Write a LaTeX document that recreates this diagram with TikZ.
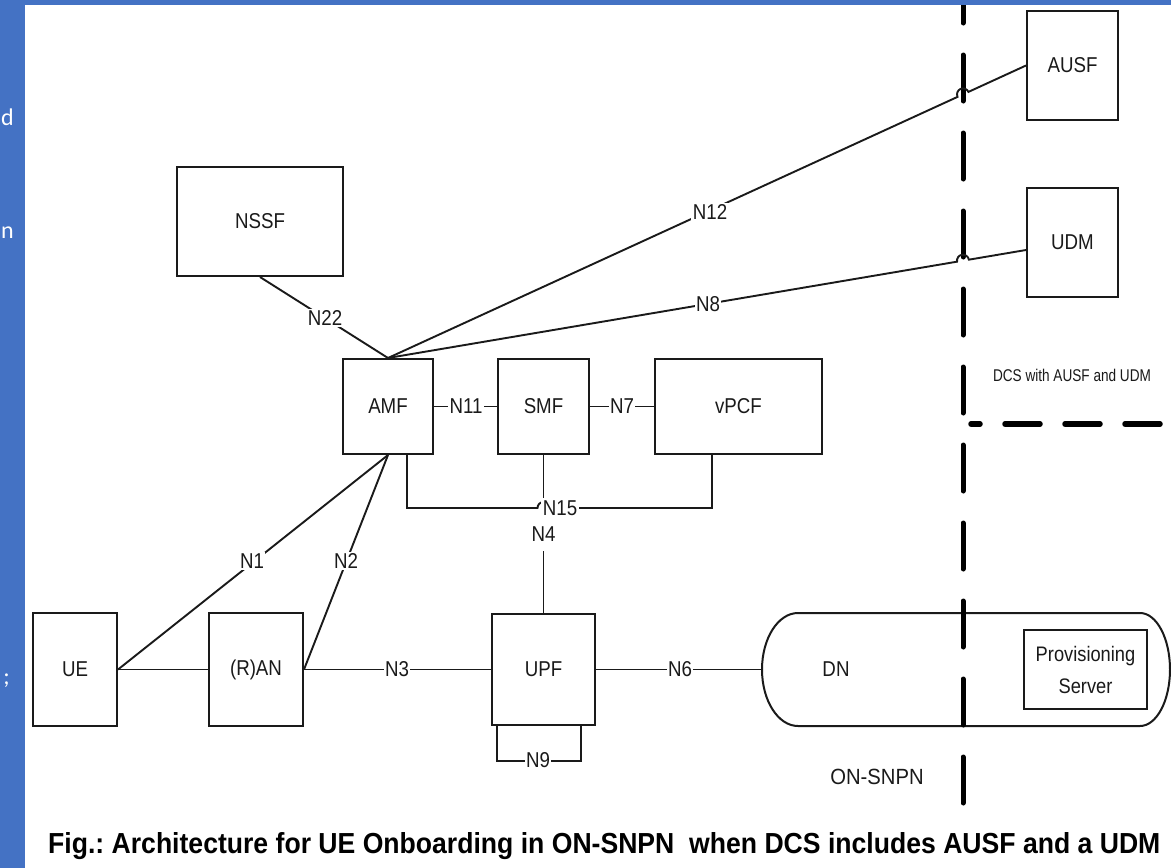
\documentclass[tikz,border=0pt]{standalone}
\usepackage{fontspec}
\usepackage{graphicx}
\setmainfont{Liberation Sans}
\newfontfamily\lblfont[FakeStretch=0.87]{Liberation Sans}
\newfontfamily\dcsfont[FakeStretch=0.8]{Liberation Sans}
\newfontfamily\snpnfont[FakeStretch=0.92]{Liberation Sans}
\newfontfamily\capfont[FakeStretch=0.82]{Liberation Sans}
\newfontfamily\sidefont{Carlito}
\usetikzlibrary{calc}
\definecolor{bandblue}{HTML}{4472C4}
\definecolor{ink}{HTML}{1A1A1A}
\frenchspacing

\begin{document}
\begin{tikzpicture}[x=1pt,y=-1pt,
  every node/.style={text=ink, font=\lblfont\fontsize{21.5}{23}\selectfont},
  nf/.style={draw=ink, line width=2pt, fill=white, rectangle, inner sep=0pt},
  wire/.style={draw=ink, line width=1.9pt},
  lbl/.style={fill=white, inner sep=1.5pt},
  fence/.style={draw=black, line width=5pt, line cap=round},
  sidetxt/.style={text=white, inner sep=0pt, anchor=base east, font=\sidefont\fontsize{24}{26}\selectfont},
]
\useasboundingbox (0,0) rectangle (1171,868);
\fill[white] (0,0) rectangle (1171,868);

% data network pill
\coordinate (dnW) at (762,669.5);
\draw[wire, line width=2pt] (798,613) -- (1140,613)
  arc[start angle=90, end angle=-90, x radius=30pt, y radius=56.5pt]
  -- (798,726)
  arc[start angle=270, end angle=90, x radius=36pt, y radius=56.5pt] -- cycle;
\node (dnl) at (836,669.5) {DN};

% network functions
\node[nf, minimum width=166pt, minimum height=109pt] (nssf) at (260,221.5) {NSSF};
\node[nf, minimum width=90pt, minimum height=95pt] (amf) at (388,406.5) {AMF};
\node[nf, minimum width=91pt, minimum height=95pt] (smf) at (543.5,406.5) {SMF};
\node[nf, minimum width=167pt, minimum height=95pt] (vpcf) at (738.5,406.5) {vPCF};
\node[nf, minimum width=91pt, minimum height=109pt] (ausf) at (1072.5,65.5) {AUSF};
\node[nf, minimum width=91pt, minimum height=109pt] (udm) at (1072.5,242.5) {UDM};
\node[nf, minimum width=84pt, minimum height=113pt] (ue) at (75,669.5) {UE};
\node[nf, minimum width=94pt, minimum height=113pt] (ran) at (256,669.5) {(R)AN};
\node[nf, minimum width=103pt, minimum height=111pt] (upf) at (543.5,669.5) {UPF};
\node[nf, minimum width=123pt, minimum height=79pt, align=center,
      font=\lblfont\fontsize{21}{32}\selectfont] (prov) at (1085.5,669.5) {Provisioning\\Server};

% domain boundaries
\coordinate (fT) at (963,-23);
\coordinate (fB) at (963,803);
\draw[fence, dash pattern=on 46pt off 32pt] (fT) -- (fB);
\coordinate (hL) at (971,424);
\coordinate (hR) at (1180,424);
\draw[fence, line width=5.5pt, dash pattern=on 35pt off 25pt, dash phase=26pt] (hL) -- (hR);

% interfaces
\draw[wire] (nssf.south) -- (amf.north);
\draw[wire] (ue.east) -- (amf.south);
\draw[wire] (ran.east) -- (amf.south);
\draw[wire] (ue.east) -- (ran.west);
\draw[wire] (ran.east) -- (upf.west);
\draw[wire] (upf.east) -- (dnW);
\draw[wire] (amf.east) -- (smf.west);
\draw[wire] (smf.east) -- (vpcf.west);
\draw[wire] (smf.south) -- (upf.north);
\draw[wire] ([xshift=-46.5pt]upf.south) -- ++(0,35) -| ([xshift=37.5pt]upf.south);

% N15 hops over N4
\coordinate (h15) at (543.5,508);
\draw[wire] ([xshift=19pt]amf.south) |- ($(h15)+(-6pt,0)$)
  arc[start angle=180, end angle=0, radius=6pt] -| ([xshift=-26.5pt]vpcf.south);

% N12 and N8 hop over the boundary
\coordinate (x12) at (intersection of amf.north--ausf.west and fT--fB);
\draw[wire] let \p1=($(ausf.west)-(amf.north)$), \n1={atan2(\y1,\x1)} in
  (amf.north) -- ($(x12)!6pt!(amf.north)$)
  arc[start angle=\n1+180, end angle=\n1, radius=6pt] -- (ausf.west);
\coordinate (udmW) at ([yshift=-7.5pt]udm.west);
\coordinate (x8) at (intersection of amf.north--udmW and fT--fB);
\draw[wire] let \p1=($(udmW)-(amf.north)$), \n1={atan2(\y1,\x1)} in
  (amf.north) -- ($(x8)!6pt!(amf.north)$)
  arc[start angle=\n1+180, end angle=\n1, radius=6pt] -- (udmW);

% interface labels
\node[lbl] (n22) at (325,318) {N22};
\node[lbl] (n12) at (710,212) {N12};
\node[lbl] (n8) at (708,304) {N8};
\node[lbl] (n11) at (466,406.5) {N11};
\node[lbl] (n7) at (622,406.5) {N7};
\node[lbl, inner ysep=3pt] (n15) at (560,508) {N15};
\node[lbl, minimum height=33pt] (n4) at (543.5,534) {N4};
\node[lbl] (n1) at (252,561) {N1};
\node[lbl] (n2) at (346,561) {N2};
\node[lbl] (n3) at (397,669.5) {N3};
\node[lbl] (n6) at (680,669.5) {N6};
\node[lbl] (n9) at (538,760) {N9};

% domain names
\node[font=\dcsfont\fontsize{17}{19}\selectfont] (dcs) at (1072,375) {DCS with AUSF and UDM};
\node[font=\snpnfont\fontsize{22}{24}\selectfont] (snpn) at (877,777) {ON-SNPN};

% caption
\node[anchor=base west, inner sep=0pt, text=black, font=\capfont\bfseries] (cap) at (48,853)
  {\resizebox{1112pt}{21pt}{Fig.: Architecture for UE Onboarding in ON-SNPN\ \ when DCS includes AUSF and a UDM}};

% slide background bands
\fill[bandblue] (0,0) rectangle (1171,5);
\fill[bandblue] (0,0) rectangle (25,868);
\begin{scope}
  \clip (0,0) rectangle (25,868);
  \node[sidetxt] (sd) at (14,125) {d};
  \node[sidetxt] (sn) at (14,238) {n};
  \node[sidetxt] (ss) at (10,684) {;};
\end{scope}
\end{tikzpicture}
\end{document}
